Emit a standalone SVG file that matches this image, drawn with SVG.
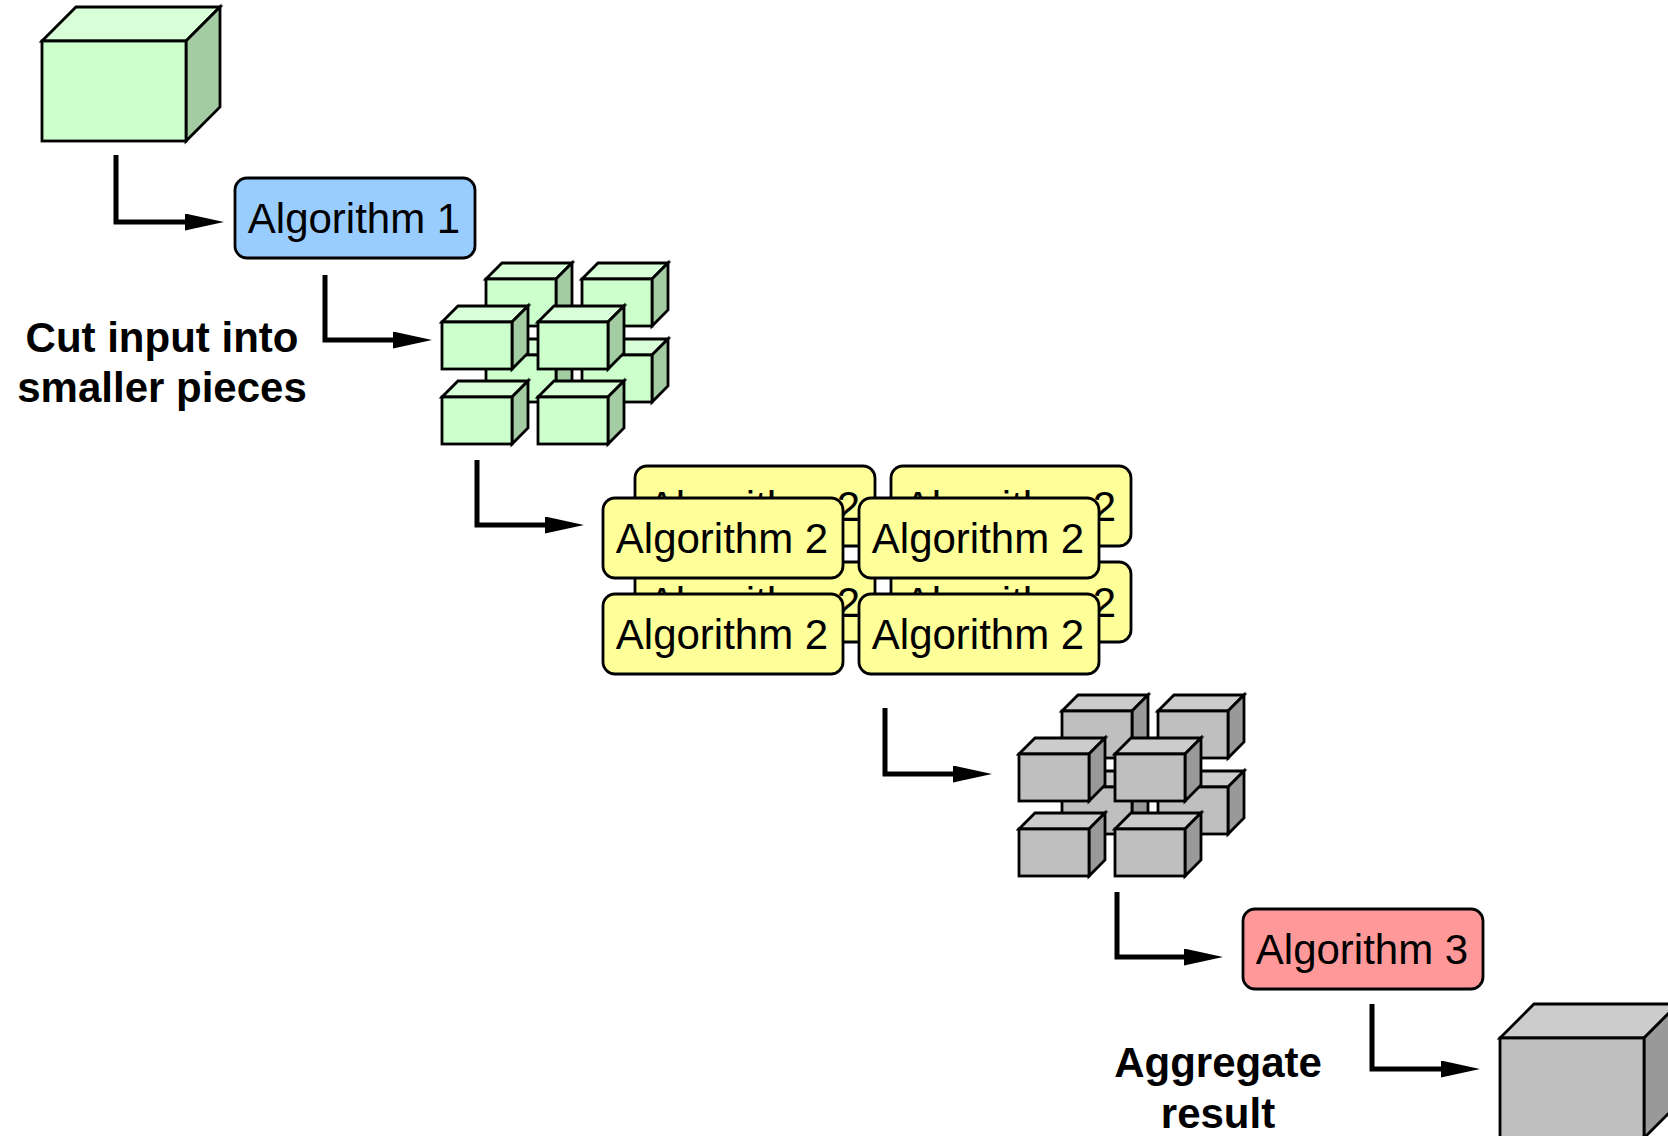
<svg xmlns="http://www.w3.org/2000/svg" width="1668" height="1136" viewBox="0 0 1668 1136">
<defs>
<style>
.s{stroke:#000;stroke-width:2.8;stroke-linejoin:miter}
.gf{fill:#ccffcc}.gt{fill:#d8ffd8}.gs{fill:#a3cca3}
.kf{fill:#bfbfbf}.kt{fill:#cccccc}.ks{fill:#999999}
.box{stroke:#000;stroke-width:2.8}
.bt{font-family:"Liberation Sans",Arial,sans-serif;font-size:42px;fill:#000;text-anchor:middle}
.lb{font-family:"Liberation Sans",Arial,sans-serif;font-size:42px;font-weight:bold;fill:#000;text-anchor:middle}
.c{fill:none;stroke:#000;stroke-width:5;stroke-linejoin:miter}
</style>
<marker id="ah" markerUnits="userSpaceOnUse" viewBox="0 0 39 17" markerWidth="39" markerHeight="17" refX="9" refY="8.5" orient="auto">
<path d="M0,0 L39,8.5 L0,17 Z" fill="#000"/>
</marker>
</defs>
<rect width="1668" height="1136" fill="#fff"/>

<g id="input-cube">
<polygon class="s gt" points="42,41 76,7 220,7 186,41"/>
<polygon class="s gs" points="186,41 220,7 220,107 186,141"/>
<rect class="s gf" x="42" y="41" width="144" height="100"/>
</g>

<g id="algorithm1">
<rect class="box" x="235" y="178" width="240" height="80" rx="12" fill="#99ccff"/>
<text class="bt" x="354" y="233">Algorithm 1</text>
</g>

<g id="label-cut">
<text class="lb" x="162" y="352">Cut input into</text>
<text class="lb" x="162" y="402">smaller pieces</text>
</g>

<g id="green-pieces">
<g><polygon class="s gt" points="486,355 502,339 572,339 556,355"/><polygon class="s gs" points="556,355 572,339 572,386 556,402"/><rect class="s gf" x="486" y="355" width="70" height="47"/></g>
<g><polygon class="s gt" points="582,355 598,339 668,339 652,355"/><polygon class="s gs" points="652,355 668,339 668,386 652,402"/><rect class="s gf" x="582" y="355" width="70" height="47"/></g>
<g><polygon class="s gt" points="486,279 502,263 572,263 556,279"/><polygon class="s gs" points="556,279 572,263 572,310 556,326"/><rect class="s gf" x="486" y="279" width="70" height="47"/></g>
<g><polygon class="s gt" points="582,279 598,263 668,263 652,279"/><polygon class="s gs" points="652,279 668,263 668,310 652,326"/><rect class="s gf" x="582" y="279" width="70" height="47"/></g>
<g><polygon class="s gt" points="442,322 458,306 528,306 512,322"/><polygon class="s gs" points="512,322 528,306 528,353 512,369"/><rect class="s gf" x="442" y="322" width="70" height="47"/></g>
<g><polygon class="s gt" points="538,322 554,306 624,306 608,322"/><polygon class="s gs" points="608,322 624,306 624,353 608,369"/><rect class="s gf" x="538" y="322" width="70" height="47"/></g>
<g><polygon class="s gt" points="442,397 458,381 528,381 512,397"/><polygon class="s gs" points="512,397 528,381 528,428 512,444"/><rect class="s gf" x="442" y="397" width="70" height="47"/></g>
<g><polygon class="s gt" points="538,397 554,381 624,381 608,397"/><polygon class="s gs" points="608,397 624,381 624,428 608,444"/><rect class="s gf" x="538" y="397" width="70" height="47"/></g>
</g>

<g id="algorithm2-back">
<rect class="box" x="635" y="466" width="240" height="80" rx="12" fill="#ffff99"/>
<text class="bt" x="754" y="521">Algorithm 2</text>
<rect class="box" x="891" y="466" width="240" height="80" rx="12" fill="#ffff99"/>
<text class="bt" x="1010" y="521">Algorithm 2</text>
<rect class="box" x="635" y="562" width="240" height="80" rx="12" fill="#ffff99"/>
<text class="bt" x="754" y="617">Algorithm 2</text>
<rect class="box" x="891" y="562" width="240" height="80" rx="12" fill="#ffff99"/>
<text class="bt" x="1010" y="617">Algorithm 2</text>
</g>

<g id="algorithm2-front">
<rect class="box" x="603" y="498" width="240" height="80" rx="12" fill="#ffff99"/>
<text class="bt" x="722" y="553">Algorithm 2</text>
<rect class="box" x="859" y="498" width="240" height="80" rx="12" fill="#ffff99"/>
<text class="bt" x="978" y="553">Algorithm 2</text>
<rect class="box" x="603" y="594" width="240" height="80" rx="12" fill="#ffff99"/>
<text class="bt" x="722" y="649">Algorithm 2</text>
<rect class="box" x="859" y="594" width="240" height="80" rx="12" fill="#ffff99"/>
<text class="bt" x="978" y="649">Algorithm 2</text>
</g>

<g id="gray-pieces">
<g><polygon class="s kt" points="1062,787 1078,771 1148,771 1132,787"/><polygon class="s ks" points="1132,787 1148,771 1148,818 1132,834"/><rect class="s kf" x="1062" y="787" width="70" height="47"/></g>
<g><polygon class="s kt" points="1158,787 1174,771 1244,771 1228,787"/><polygon class="s ks" points="1228,787 1244,771 1244,818 1228,834"/><rect class="s kf" x="1158" y="787" width="70" height="47"/></g>
<g><polygon class="s kt" points="1062,711 1078,695 1148,695 1132,711"/><polygon class="s ks" points="1132,711 1148,695 1148,742 1132,758"/><rect class="s kf" x="1062" y="711" width="70" height="47"/></g>
<g><polygon class="s kt" points="1158,711 1174,695 1244,695 1228,711"/><polygon class="s ks" points="1228,711 1244,695 1244,742 1228,758"/><rect class="s kf" x="1158" y="711" width="70" height="47"/></g>
<g><polygon class="s kt" points="1019,754 1035,738 1105,738 1089,754"/><polygon class="s ks" points="1089,754 1105,738 1105,785 1089,801"/><rect class="s kf" x="1019" y="754" width="70" height="47"/></g>
<g><polygon class="s kt" points="1115,754 1131,738 1201,738 1185,754"/><polygon class="s ks" points="1185,754 1201,738 1201,785 1185,801"/><rect class="s kf" x="1115" y="754" width="70" height="47"/></g>
<g><polygon class="s kt" points="1019,829 1035,813 1105,813 1089,829"/><polygon class="s ks" points="1089,829 1105,813 1105,860 1089,876"/><rect class="s kf" x="1019" y="829" width="70" height="47"/></g>
<g><polygon class="s kt" points="1115,829 1131,813 1201,813 1185,829"/><polygon class="s ks" points="1185,829 1201,813 1201,860 1185,876"/><rect class="s kf" x="1115" y="829" width="70" height="47"/></g>
</g>

<g id="algorithm3">
<rect class="box" x="1243" y="909" width="240" height="80" rx="12" fill="#ff9999"/>
<text class="bt" x="1362" y="964">Algorithm 3</text>
</g>

<g id="label-aggregate">
<text class="lb" x="1218" y="1077">Aggregate</text>
<text class="lb" x="1218" y="1128">result</text>
</g>

<g id="result-cube">
<polygon class="s kt" points="1500,1038 1534,1004 1678,1004 1644,1038"/>
<polygon class="s ks" points="1644,1038 1678,1004 1678,1104 1644,1138"/>
<rect class="s kf" x="1500" y="1038" width="144" height="100"/>
</g>

<g id="connectors">
<path class="c" d="M116,155 V222 H194" marker-end="url(#ah)"/>
<path class="c" d="M325,275 V340 H402" marker-end="url(#ah)"/>
<path class="c" d="M477,460 V525 H554" marker-end="url(#ah)"/>
<path class="c" d="M885,708 V774 H962" marker-end="url(#ah)"/>
<path class="c" d="M1117,892 V957 H1193" marker-end="url(#ah)"/>
<path class="c" d="M1372,1004 V1069 H1450" marker-end="url(#ah)"/>
</g>
</svg>
